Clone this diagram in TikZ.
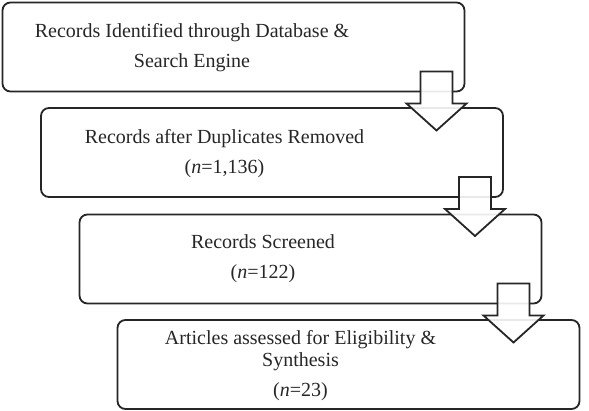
\documentclass[tikz,border=0pt]{standalone}
\usepackage{fontspec}
\setmainfont{Liberation Serif}
\tikzset{
	stagebox/.style={draw=black!85, line width=1.8pt, rounded corners=8pt, minimum width=462pt, minimum height=89pt, inner sep=0pt, outer sep=0pt},
	stagetext/.style={align=center, inner sep=0pt, text=black!85, font=\fontsize{20}{22}\selectfont},
	blockarrow/.style={draw=black!85, line width=1.8pt, fill=white, fill opacity=0.9, line join=miter}
}
\begin{document}
\begin{tikzpicture}[x=1pt,y=-1pt]
	\useasboundingbox (0,0) rectangle (589,411);

	\node[stagebox] (b1) at (233.5,47) {};
	\node[stagebox] (b2) at (272,152.5) {};
	\node[stagebox] (b3) at (310.5,259) {};
	\node[stagebox] (b4) at (348.5,364.5) {};

	\node[stagetext] (t1) at (192,48) {Records Identified through Database \&\\[8pt] Search Engine};
	\node[stagetext] (t2) at (224.5,154) {Records after Duplicates Removed\\[8pt] (\textit{n}=1,136)};
	\node[stagetext] (t3) at (263,259) {Records Screened\\[8pt] (\textit{n}=122)};
	\node[stagetext] (t4) at (300.5,366) {Articles assessed for Eligibility \&\\ Synthesis\\[8pt] (\textit{n}=23)};

	% down arrows over the corners
	\foreach \b in {b1,b2,b3}
		\draw[blockarrow] ([xshift=-28pt,yshift=20pt]\b.south east) ++(-16,0) -- ++(32,0) -- ++(0,32) -- ++(14,0) -- ++(-30,27) -- ++(-30,-27) -- ++(14,0) -- cycle;
\end{tikzpicture}
\end{document}
